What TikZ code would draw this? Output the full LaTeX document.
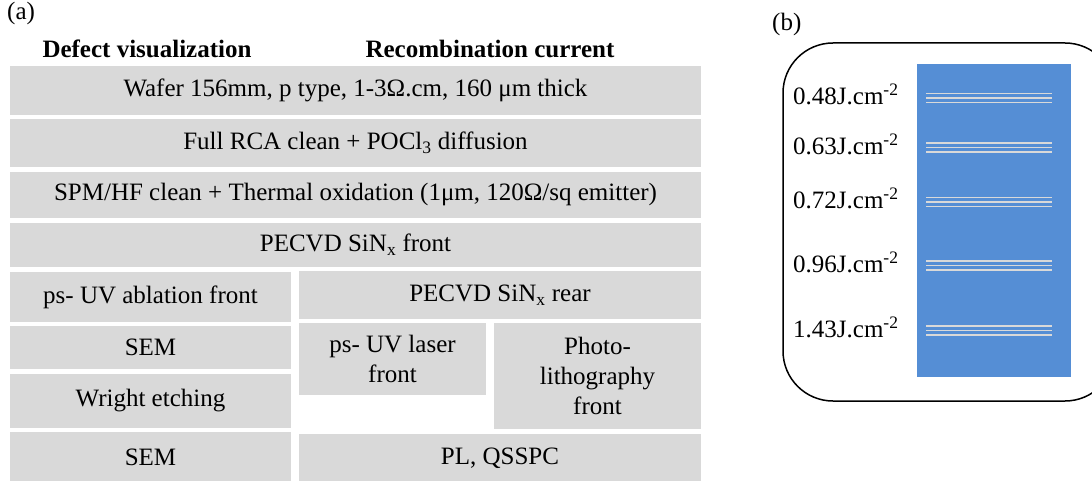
\documentclass[tikz,border=0pt]{standalone}
\usepackage{fontspec}
\setmainfont{Liberation Serif}
\usepackage{xcolor}
\usetikzlibrary{positioning}

\definecolor{boxgray}{HTML}{D9D9D9}
\definecolor{wafblue}{HTML}{558ED5}

\begin{document}
\begin{tikzpicture}[x=1pt, y=-1pt,
    font=\fontsize{25}{30}\selectfont,
    block/.style={rectangle, fill=boxgray, inner sep=0pt, outer sep=0pt, align=center},
    head/.style={font=\fontsize{25}{30}\selectfont\bfseries, inner sep=0pt},
    fluence/.style={anchor=base west, inner sep=0pt},
    stripe/.style={draw=boxgray, line width=1.3pt}]

    \useasboundingbox (0,0) rectangle (1092,481);
    \clip (0,0) rectangle (1092,481);

    % Panel (a)
    \node [anchor=west, inner sep=0pt] (tagA) at (7,13) {(a)};
    \node [head, anchor=base] (hdrDefect) at (147,58) {Defect visualization};
    \node [head, anchor=base] (hdrRecomb) at (490,58) {Recombination current};

    % Common steps
    \node [block, minimum width=691, minimum height=49] (wafer) at (355.5,90.5) {Wafer 156mm, p type, 1-3Ω.cm, 160 μm thick};
    \node [block, minimum width=691, minimum height=48] (rca) at (355.5,143) {Full RCA clean + POCl\textsubscript{3} diffusion};
    \node [block, minimum width=691, minimum height=46] (spm) at (355.5,195) {SPM/HF clean + Thermal oxidation (1μm, 120Ω/sq emitter)};
    \node [block, minimum width=691, minimum height=44] (sinfront) at (355.5,245) {PECVD SiN\textsubscript{x} front};

    % Defect visualization
    \node [block, minimum width=281, minimum height=50] (ablation) at (150.5,297) {ps- UV ablation front};
    \node [block, minimum width=281, minimum height=43] (semA) at (150.5,347.5) {SEM};
    \node [block, minimum width=281, minimum height=54] (wright) at (150.5,401) {Wright etching};
    \node [block, minimum width=281, minimum height=50] (semB) at (150.5,457) {SEM};

    % Recombination current
    \node [block, minimum width=402, minimum height=48] (sinrear) at (500,295) {PECVD SiN\textsubscript{x} rear};
    \node [block, minimum width=187, minimum height=72] (laser) at (392.5,359) {ps- UV laser\\front};
    \node [block, minimum width=207, minimum height=106] (litho) at (597.5,376) {Photo-\\lithography\\front};
    \node [block, minimum width=402, minimum height=48] (plqs) at (500,458) {PL, QSSPC};

    % Panel (b)
    \node [anchor=west, inner sep=0pt] (tagB) at (772,24) {(b)};
    \draw [line width=1.5pt, rounded corners=50pt] (783,43) rectangle (1115,401);
    \fill [wafblue] (917,64) rectangle (1071,377);
    \foreach \yy/\lab in {98/0.48, 147.5/0.63, 202/0.72, 265.5/0.96, 330.5/1.43} {
        \foreach \dy in {-4.5,0,4.5}
            \draw [stripe] (926,\yy+\dy) -- (1052,\yy+\dy);
        \node [fluence] (f\lab) at (793,\yy+7) {\lab J.cm\textsuperscript{-2}};
    }
\end{tikzpicture}
\end{document}
